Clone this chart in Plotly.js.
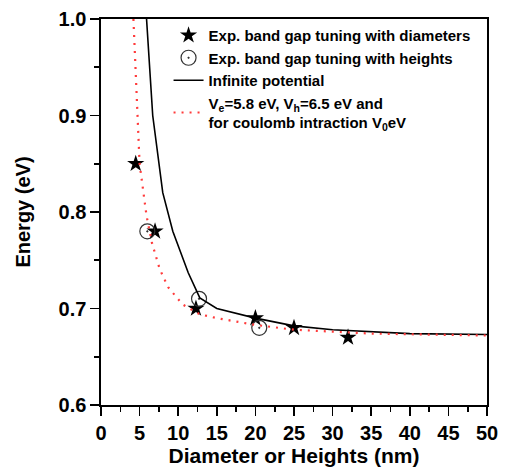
<!DOCTYPE html>
<html>
<head>
<meta charset="utf-8">
<script src="https://cdn.plot.ly/plotly-3.0.1.min.js"></script>
<style>html,body{margin:0;padding:0;background:#fff;}#chart{width:507px;height:470px;}</style>
</head>
<body>
<div id="chart"></div>
<script>
// Experimental points
var diamX = [4.5, 7, 12.3, 20, 25, 32];
var diamY = [0.85, 0.78, 0.70, 0.69, 0.68, 0.67];
var heightX = [6, 12.7, 20.5];
var heightY = [0.78, 0.71, 0.68];
// Infinite potential curve
var infX = [5.9, 6.7, 8.0, 9.3, 11.3, 12.8, 15, 20, 25, 30, 40, 50];
var infY = [1.0, 0.9, 0.82, 0.78, 0.737, 0.711, 0.70, 0.69, 0.682, 0.678, 0.674, 0.673];
// Finite potential curve
var finX = [4.2, 4.7, 5.0, 5.9, 6.6, 7.6, 8.7, 10.6, 12.8, 15, 20, 25, 35, 50];
var finY = [1.0, 0.9, 0.85, 0.796, 0.768, 0.741, 0.722, 0.704, 0.694, 0.690, 0.683, 0.678, 0.674, 0.672];

var names = [
  'Exp. band gap tuning with diameters',
  'Exp. band gap tuning with heights',
  'Infinite potential',
  'V<sub>e</sub>=5.8 eV, V<sub>h</sub>=6.5 eV and<br>for coulomb intraction V<sub>0</sub>eV'
];

var FONT = 'Arial, "Liberation Sans", sans-serif';

var traces = [
  {x: diamX, y: diamY, mode: 'markers', name: names[0], cliponaxis: false,
   marker: {symbol: 'star', size: 13, color: '#000'}},
  {x: heightX, y: heightY, mode: 'markers', name: names[1], cliponaxis: false,
   marker: {symbol: 'circle-open-dot', size: 15, color: '#333', line: {width: 1.2, color: '#333'}}},
  {x: infX, y: infY, mode: 'lines', name: names[2],
   line: {color: '#000', width: 1.6}},
  {x: finX, y: finY, mode: 'lines', name: names[3],
   line: {color: '#ff3b3b', width: 2.2, dash: '2px,6px'}}
];

var axisCommon = {
  showline: true, linecolor: '#000', linewidth: 1.6, mirror: true,
  ticks: 'outside', ticklen: 9, tickwidth: 1.6, tickcolor: '#000',
  showgrid: false, zeroline: false,
  tickfont: {family: FONT, size: 20, color: '#000', weight: 'bold'}
};

var layout = {
  width: 507, height: 470,
  margin: {l: 101, r: 20, t: 19, b: 65},
  paper_bgcolor: '#fff', plot_bgcolor: '#fff',
  showlegend: true,
  legend: {x: 0.175, y: 1.0, xanchor: 'left', yanchor: 'top',
    bgcolor: 'rgba(0,0,0,0)', borderwidth: 0, tracegroupgap: 0,
    font: {family: FONT, size: 15, color: '#000', weight: 'bold'}},
  xaxis: Object.assign({}, axisCommon, {
    range: [0, 50], dtick: 5, tick0: 0,
    minor: {dtick: 2.5, ticks: 'outside', ticklen: 5, tickwidth: 1.6, tickcolor: '#000'},
    title: {text: 'Diameter or Heights (nm)', standoff: 6,
      font: {family: FONT, size: 21, color: '#000', weight: 'bold'}}
  }),
  yaxis: Object.assign({}, axisCommon, {
    range: [0.6, 1.0], dtick: 0.1, tick0: 0.6, tickformat: '.1f',
    minor: {dtick: 0.05, ticks: 'outside', ticklen: 5, tickwidth: 1.6, tickcolor: '#000'},
    title: {text: 'Energy (eV)', standoff: 22,
      font: {family: FONT, size: 20, color: '#000', weight: 'bold'}}
  })
};

Plotly.newPlot('chart', traces, layout, {displayModeBar: false, staticPlot: true});
</script>
</body>
</html>
